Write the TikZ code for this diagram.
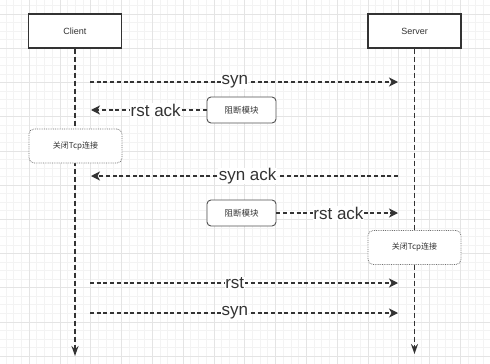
\documentclass[tikz,border=0pt]{standalone}
\usepackage{fontspec}
\setmainfont{Liberation Sans}
\newfontfamily\cjk{Noto Sans CJK SC}
\usetikzlibrary{arrows.meta}
\definecolor{ink}{HTML}{333333}
\definecolor{gridlo}{HTML}{F3F3F3}
\definecolor{gridhi}{HTML}{E4E4E4}
\tikzset{
  actor/.style={draw=ink, line width=1.6pt, fill=white, minimum width=93pt, minimum height=34pt,
    text=ink, font=\fontsize{9}{10}\selectfont},
  block/.style={draw=ink!85, line width=0.9pt, rounded corners=4pt, fill=white,
    minimum width=69pt, minimum height=26pt, text=ink, font=\cjk\fontsize{8.5}{10}\selectfont},
  closebox/.style={draw=ink!70, densely dotted, line width=0.8pt, rounded corners=5pt, fill=white,
    minimum width=93pt, minimum height=34pt, text=ink, font=\cjk\fontsize{8}{10}\selectfont},
  lifeline/.style={draw=ink, line width=1.8pt, dash pattern=on 5pt off 3pt,
    -{Stealth[length=10pt,width=7pt]}},
  msg/.style={draw=ink, line width=1.3pt, dash pattern=on 4pt off 2.7pt,
    -{Stealth[length=9pt,width=9pt,inset=2.5pt]}},
  lbl/.style={fill=white, inner sep=0.5pt, text=ink, font=\fontsize{17}{18}\selectfont},
}
\begin{document}
\begin{tikzpicture}[x=1pt, y=-1pt]
  \useasboundingbox (0,0) rectangle (490,364);
  \fill[white] (0,0) rectangle (490,364);
  % background grid
  \begin{scope}
    \clip (0,0) rectangle (490,364);
    \foreach \i in {-3,...,59} \draw[gridlo, line width=0.5pt] ({29+7.7*\i},0) -- ({29+7.7*\i},364);
    \foreach \j in {-1,...,41} \draw[gridlo, line width=0.5pt] (0,{14+8.55*\j}) -- (490,{14+8.55*\j});
    \foreach \i in {0,4,...,56} \draw[gridhi, line width=0.6pt] ({29+7.7*\i},0) -- ({29+7.7*\i},364);
    \foreach \j in {0,4,...,40} \draw[gridhi, line width=0.6pt] (0,{14+8.55*\j}) -- (490,{14+8.55*\j});
  \end{scope}

  \node[actor] (client) at (75,31) {Client};
  \node[actor] (server) at (414.5,31) {Server};
  \coordinate (cend) at (75,356);
  \coordinate (send) at (414.5,354);
  \draw[lifeline] (client.south) -- (cend);
  \draw[lifeline] (server.south) -- (send);

  \node[block] (cut1) at (241.5,110) {阻断模块};
  \node[block] (cut2) at (241.5,213) {阻断模块};
  \node[closebox] (cclose) at (75.5,146) {关闭Tcp连接};
  \node[closebox] (sclose) at (414.5,247.5) {关闭Tcp连接};

  \coordinate (c1) at (90,82);   \coordinate (s1) at (398,82);
  \coordinate (c2) at (91,110);
  \coordinate (s3) at (398,176); \coordinate (c3) at (91,176);
  \coordinate (s4) at (398,213);
  \coordinate (c5) at (90,283);  \coordinate (s5) at (398,283);
  \coordinate (c6) at (90,313);  \coordinate (s6) at (398,313);

  \draw[msg] (c1) -- node[lbl, pos=0.47] {syn} (s1);
  \draw[msg] (cut1.west) -- node[lbl, pos=0.44] {rst ack} (c2);
  \draw[msg] (s3) -- node[lbl, pos=0.49] {syn ack} (c3);
  \draw[msg] (cut2.east) -- node[lbl, pos=0.51] {rst ack} (s4);
  \draw[msg] (c5) -- node[lbl, pos=0.47] {rst} (s5);
  \draw[msg] (c6) -- node[lbl, pos=0.47] {syn} (s6);
\end{tikzpicture}
\end{document}
